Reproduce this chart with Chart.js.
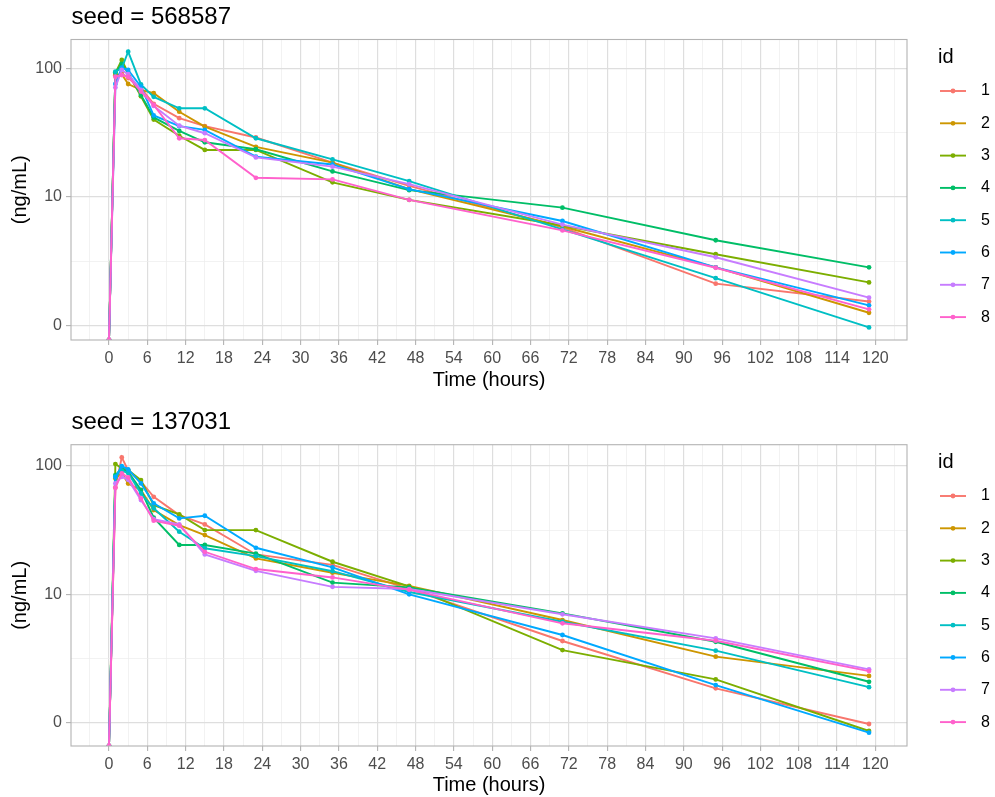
<!DOCTYPE html>
<html>
<head>
<meta charset="utf-8">
<script src="https://cdn.jsdelivr.net/npm/chart.js@4.4.1/dist/chart.umd.min.js"></script>
<style>
  body { margin: 0; background: #fff; }
  #wrap { position: relative; width: 995px; height: 797px; background: #fff; }
  canvas { position: absolute; left: 0; }
</style>
</head>
<body>
<div id="wrap">
  <canvas id="top" width="995" height="392" style="top:0px"></canvas>
  <canvas id="bottom" width="995" height="392" style="top:405px"></canvas>
</div>
<script>
// sampling times (hours)
const times = [0, 1, 2, 3, 5, 7, 11, 15, 23, 35, 47, 71, 95, 119];
const ids = ['1', '2', '3', '4', '5', '6', '7', '8'];

// seed = 568587, concentration (ng/mL) per id
const top1 = [0, 88, 91, 84, 70, 53, 41, 35.5, 29, 18.5, 12.2, 5.8, 2.12, 1.54];
const top2 = [0, 88, 90, 75.5, 68, 64, 46, 35.2, 24.5, 18.5, 11.5, 5.9, 2.84, 1.26];
const top3 = [0, 92, 116, 92, 60.6, 40, 29.9, 23.2, 23.2, 13.0, 9.5, 6.0, 3.59, 2.17];
const top4 = [0, 93, 108, 92, 62, 41.5, 32.6, 26.6, 23.5, 15.8, 11.3, 8.26, 4.61, 2.84];
const top5 = [0, 94, 100, 134.6, 75, 60, 48.9, 48.9, 28.6, 19.6, 13.3, 5.6, 2.34, 0.97];
const top6 = [0, 75.5, 101, 97, 72, 43, 35.5, 33.2, 20.6, 17.9, 11.5, 6.51, 2.84, 1.44];
const top7 = [0, 71, 97, 90, 68, 51, 35.8, 31.3, 20.3, 17.2, 12.6, 6.1, 3.40, 1.65];
const top8 = [0, 86, 88.7, 86, 66, 51.9, 28.6, 27.7, 14.1, 13.7, 9.5, 5.5, 2.82, 1.34];

// seed = 137031
const bot1 = [0, 68, 116.7, 92.5, 75.4, 57.5, 41.4, 35.0, 20.4, 16.9, 11.0, 4.31, 1.84, 0.97];
const bot2 = [0, 80, 88, 73, 65, 45.3, 34.6, 28.9, 19.0, 14.7, 11.6, 6.28, 3.25, 2.30];
const bot3 = [0, 103.5, 96, 93, 77.6, 49.5, 41.9, 31.6, 31.6, 17.9, 11.5, 3.66, 2.16, 0.855];
const bot4 = [0, 85, 95, 90, 64.9, 39.5, 24.2, 24.2, 20.7, 12.3, 11.3, 7.08, 4.25, 2.07];
const bot5 = [0, 82.4, 92, 88, 61, 46.8, 30.7, 22.8, 19.8, 15.1, 10.4, 6.09, 3.62, 1.88];
const bot6 = [0, 82, 99.8, 94.1, 73.1, 51.1, 39.0, 40.9, 23.0, 16.2, 9.96, 4.80, 1.95, 0.83];
const bot7 = [0, 73.1, 82.4, 78, 54.2, 38.5, 35.0, 20.4, 15.2, 11.4, 10.96, 6.96, 4.52, 2.59];
const bot8 = [0, 67.6, 87.5, 81.5, 55.9, 37.4, 34.2, 21.4, 15.7, 13.5, 10.8, 5.92, 4.33, 2.51];

// axis ticks
const yTicks = [1, 10, 100];
const yTickLabels = ['0', '10', '100'];
const xTicks = [0, 6, 12, 18, 24, 30, 36, 42, 48, 54, 60, 66, 72, 78, 84, 90, 96, 102, 108, 114, 120];

const colors = ['#F8766D', '#CD9600', '#7CAE00', '#00BE67', '#00BFC4', '#00A9FF', '#C77CFF', '#FF61CC'];

Chart.defaults.font.family = '"Liberation Sans", Arial, sans-serif';

const gridMajor = '#DEDEDE';
const gridMinor = '#EDEDED';

// ggplot places log10(0) = -Inf at the panel floor
function makeDatasets(series, floor) {
  return series.map((vals, i) => ({
    label: ids[i],
    data: times.map((t, j) => ({ x: t, y: vals[j] > 0 ? vals[j] : floor })),
    borderColor: colors[i],
    backgroundColor: colors[i],
    borderWidth: 1.9,
    pointRadius: 2.4,
    pointBorderWidth: 0,
    pointHoverRadius: 2.4,
    order: series.length - 1 - i
  }));
}

const decor = {
  id: 'decor',
  afterDraw(chart, args, opts) {
    const ctx = chart.ctx;
    const a = chart.chartArea;
    ctx.save();
    ctx.strokeStyle = '#B3B3B3';
    ctx.lineWidth = 1.1;
    ctx.strokeRect(a.left, a.top, a.right - a.left, a.bottom - a.top);

    ctx.fillStyle = '#000';
    ctx.textAlign = 'left';
    ctx.textBaseline = 'alphabetic';
    ctx.font = '24px "Liberation Sans"';
    ctx.fillText(opts.text, a.left + 0.5, 24);

    // legend
    ctx.font = '20px "Liberation Sans"';
    ctx.fillText('id', 938, 63.3);
    ctx.font = '16px "Liberation Sans"';
    ctx.textBaseline = 'middle';
    chart.data.datasets.forEach((ds, i) => {
      const y = 91 + i * 32.3;
      ctx.strokeStyle = ds.borderColor;
      ctx.lineWidth = ds.borderWidth;
      ctx.beginPath();
      ctx.moveTo(940, y);
      ctx.lineTo(966, y);
      ctx.stroke();
      ctx.fillStyle = ds.borderColor;
      ctx.beginPath();
      ctx.arc(953, y, 2.4, 0, Math.PI * 2);
      ctx.fill();
      ctx.fillStyle = '#000';
      ctx.fillText(ds.label, 981, y);
    });
    ctx.restore();
  }
};

function makeChart(id, title, series, yMin, yMax, padTop, xHeight) {
  const minorX = [];
  for (let v = -3; v <= 123; v += 3) minorX.push(v);
  const minorY = [1, Math.sqrt(10), 10, Math.sqrt(1000), 100];

  return new Chart(document.getElementById(id), {
    type: 'line',
    data: { datasets: makeDatasets(series, yMin) },
    plugins: [decor],
    options: {
      responsive: false,
      animation: false,
      events: [],
      layout: { padding: { top: padTop, right: 88, left: 0, bottom: 0 } },
      plugins: {
        legend: { display: false },
        tooltip: { enabled: false },
        decor: { text: title }
      },
      scales: {
        x: {
          type: 'linear',
          min: -5.95,
          max: 124.95,
          afterBuildTicks: s => { s.ticks = minorX.map(v => ({ value: v })); },
          afterFit: s => { s.height = xHeight; },
          border: { display: false },
          grid: {
            color: c => xTicks.includes(c.tick.value) ? gridMajor : gridMinor,
            lineWidth: c => xTicks.includes(c.tick.value) ? 1.2 : 0.7,
            tickLength: 5,
            tickWidth: 1.1,
            tickColor: c => xTicks.includes(c.tick.value) ? '#B3B3B3' : 'rgba(0,0,0,0)'
          },
          ticks: {
            autoSkip: false,
            maxRotation: 0,
            padding: 4,
            color: '#4D4D4D',
            font: { size: 16 },
            callback: v => xTicks.includes(v) ? String(v) : ''
          },
          title: {
            display: true,
            text: 'Time (hours)',
            color: '#000',
            font: { size: 20 },
            padding: { top: 0, bottom: 0 }
          }
        },
        y: {
          type: 'logarithmic',
          min: yMin,
          max: yMax,
          afterBuildTicks: s => { s.ticks = minorY.map(v => ({ value: v })); },
          afterFit: s => { s.width = 71; },
          border: { display: false },
          grid: {
            color: c => yTicks.includes(c.tick.value) ? gridMajor : gridMinor,
            lineWidth: c => yTicks.includes(c.tick.value) ? 1.2 : 0.7,
            tickLength: 5,
            tickWidth: 1.1,
            tickColor: c => yTicks.includes(c.tick.value) ? '#B3B3B3' : 'rgba(0,0,0,0)'
          },
          ticks: {
            autoSkip: false,
            padding: 4,
            color: '#4D4D4D',
            font: { size: 16 },
            callback: v => {
              const k = yTicks.indexOf(v);
              return k >= 0 ? yTickLabels[k] : '';
            }
          },
          title: {
            display: true,
            text: '(ng/mL)',
            color: '#000',
            font: { size: 20 },
            padding: { top: 8.5, bottom: 0 }
          }
        }
      }
    }
  });
}

makeChart('top', 'seed = 568587', [top1, top2, top3, top4, top5, top6, top7, top8], 0.774, 167.4, 39.5, 52);
makeChart('bottom', 'seed = 137031', [bot1, bot2, bot3, bot4, bot5, bot6, bot7, bot8], 0.653, 146.6, 39.7, 51);
</script>
</body>
</html>
